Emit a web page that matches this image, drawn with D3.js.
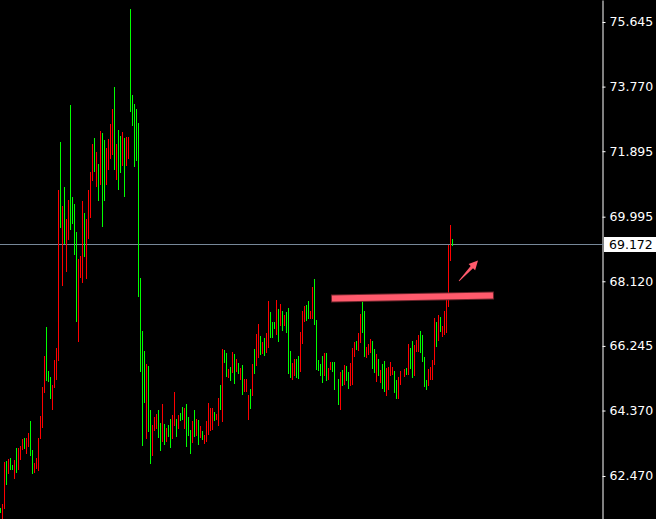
<!DOCTYPE html>
<html><head><meta charset="utf-8">
<script src="https://cdn.jsdelivr.net/npm/d3@7"></script>
<style>html,body{margin:0;padding:0;background:#000;overflow:hidden}</style>
</head><body>
<svg id="c" width="656" height="519"></svg>
<script>
const highs = [
61.54,61.66,62.87,62.90,62.96,62.99,62.79,62.93,63.28,63.28,
63.34,63.54,63.57,63.57,63.72,64.06,63.22,62.84,62.99,63.57,
64.21,65.05,65.95,66.79,65.51,65.34,65.11,65.83,66.18,70.77,
72.16,70.30,70.86,69.93,70.48,73.24,70.57,70.36,69.55,68.77,
68.85,70.45,70.10,69.93,70.77,71.29,72.10,72.28,71.87,71.52,
72.48,72.42,72.22,71.99,72.25,72.68,73.12,73.76,72.10,72.51,
72.34,72.45,72.28,72.31,72.31,76.02,73.53,73.26,73.12,72.71,
68.21,66.68,66.09,65.72,65.66,64.38,63.95,64.18,64.27,64.38,
64.01,64.56,63.98,63.86,63.95,64.12,64.24,64.91,64.12,64.24,
64.30,64.47,64.44,64.56,64.18,63.80,64.06,64.38,64.12,64.09,
63.92,63.77,63.66,64.06,64.59,64.44,64.44,64.32,64.27,64.73,
65.11,66.15,66.12,66.04,65.57,65.63,66.07,66.01,65.86,65.75,
65.60,65.69,65.28,65.28,64.82,64.99,65.72,66.15,66.59,66.88,
66.53,66.36,66.47,66.62,67.55,67.23,66.94,66.94,67.58,67.31,
67.46,67.26,67.14,67.23,67.34,66.09,65.75,65.86,65.86,65.95,
66.65,67.26,67.40,67.43,67.55,67.26,67.95,68.19,67.00,65.83,
65.72,65.95,66.04,66.04,65.60,65.77,65.77,65.77,65.28,65.48,
65.54,65.69,65.66,65.48,65.75,66.18,66.36,66.39,66.62,67.17,
67.55,67.26,66.21,66.30,66.45,66.39,66.15,66.01,65.86,65.54,
65.72,65.80,65.60,65.63,65.77,65.63,65.51,65.25,65.34,65.51,
65.57,65.60,66.30,66.18,66.39,66.27,66.42,66.56,66.68,66.56,
65.92,65.25,65.57,65.63,65.83,67.05,66.94,67.14,67.08,66.82,
67.26,67.58,69.17,69.75,69.35];
const lows = [
61.39,61.16,61.51,62.21,62.52,62.64,62.64,62.38,62.55,62.64,
62.93,63.22,63.25,63.10,63.31,63.05,62.52,62.55,62.67,62.61,
63.54,63.86,64.88,65.22,65.19,64.70,64.38,65.02,65.25,65.80,
69.67,67.98,69.20,68.39,69.32,69.61,69.78,68.88,66.94,66.36,
68.21,68.07,68.82,68.19,69.35,69.96,71.03,71.29,70.86,70.45,
70.91,69.70,70.45,70.91,71.35,71.67,71.78,71.35,71.06,70.77,
71.26,71.46,70.57,71.46,71.67,73.03,72.63,71.43,71.61,67.66,
65.48,63.34,64.59,63.54,63.75,62.81,63.05,63.77,63.83,63.57,
63.19,63.46,63.37,63.46,63.60,63.28,63.54,63.92,63.60,63.83,
64.06,64.09,63.83,63.31,63.63,63.10,63.43,63.60,63.63,63.37,
63.57,63.51,63.40,63.46,63.66,63.77,63.80,64.06,64.09,63.92,
64.38,64.03,65.75,65.34,65.31,65.22,65.46,65.14,65.48,65.43,
65.25,64.82,64.91,64.91,64.09,64.41,64.79,65.43,65.66,65.89,
65.98,66.01,65.95,66.04,66.18,66.47,66.47,66.73,66.56,66.36,
66.82,66.68,66.82,66.62,65.43,65.31,65.25,65.37,65.31,65.28,
65.48,66.30,66.94,66.97,67.03,67.03,67.03,66.85,65.54,65.51,
65.37,65.17,65.37,65.22,65.25,65.54,65.48,64.96,64.53,64.38,
65.08,65.11,65.22,64.99,65.08,65.11,65.92,66.12,66.09,66.33,
66.62,65.92,65.89,65.98,66.04,65.57,65.46,65.19,65.37,65.17,
64.99,64.91,64.79,64.96,65.37,65.40,64.88,64.70,64.70,65.11,
65.34,65.40,65.40,65.57,65.31,65.37,66.07,66.07,66.04,65.77,
65.05,64.96,65.08,65.25,65.25,65.69,66.21,66.39,66.65,66.50,
66.56,66.62,67.37,68.71,69.14];
const bullish = [
1,0,0,1,0,1,1,0,1,0, 0,0,1,0,0,1,1,0,0,0, 0,0,0,1,1,1,0,0,0,0,
1,0,1,0,0,1,1,1,1,0, 0,0,1,0,0,0,0,1,0,1, 0,1,1,0,0,0,0,1,0,1,
1,0,1,0,0,1,1,1,1,1, 1,1,1,0,1,1,0,0,0,1, 1,0,1,0,1,1,0,0,1,0,
1,1,0,1,1,1,0,1,0,1, 0,1,0,0,0,0,0,1,0,0, 1,0,1,1,0,1,0,1,0,1,
0,1,0,0,0,1,0,1,0,0, 1,0,1,0,0,1,1,1,0,1, 0,1,0,1,1,1,0,0,1,1,
0,0,0,1,1,0,0,1,1,1, 1,1,0,1,0,0,1,1,1,0, 1,0,1,1,0,0,0,1,0,0,
1,1,0,0,0,1,1,0,1,0, 1,1,0,0,0,0,1,1,0,0, 0,1,0,1,1,0,0,0,1,1,
1,1,0,0,0,0,1,0,1,0, 0,0,0,0,1];
// chart time slots of the bars (two slots have no readable bar)
const slots = highs.map((_, i) => i + (i >= 168 ? 1 : 0) + (i >= 200 ? 1 : 0));
const tickValues = [75.645, 73.770, 71.895, 69.995, 68.120, 66.245, 64.370, 62.470];
const currentPrice = 69.172;
// trend line and arrow annotations, in (slot, price)
const trendLine = [[165.5, 67.62], [247, 67.71]];
const arrowPts = [[229.5, 68.13], [239, 68.72]];

const W = 656, H = 519, axisX = 602;
const N = highs.length;
const svg = d3.select('#c');
svg.append('rect').attr('width', W).attr('height', H).attr('fill', '#000');

const x = d3.scaleLinear().domain([0, 1]).range([0, 2]);
const y = d3.scaleLinear().domain([61.222, 76.283]).range([H, 0]);

const data = highs.map((h, i) => ({s: slots[i], h, l: lows[i], up: bullish[i]}));

// current price line
const py = Math.floor(y(currentPrice)) - 0.5;
svg.append('line').attr('x1', 0).attr('x2', axisX).attr('y1', py).attr('y2', py)
  .attr('stroke', '#778899').attr('stroke-width', 1).attr('shape-rendering', 'crispEdges');

// bars
svg.append('g').selectAll('rect').data(data).join('rect')
  .attr('x', d => Math.round(x(d.s)))
  .attr('y', d => Math.round(y(d.h)))
  .attr('width', 1)
  .attr('height', d => Math.max(1, Math.round(y(d.l)) - Math.round(y(d.h))))
  .attr('fill', d => d.up ? '#00ff00' : '#ff0000')
  .attr('shape-rendering', 'crispEdges');

// trend line
const tl = trendLine.map(p => [x(p[0]), y(p[1])]);
svg.append('line').attr('x1', tl[0][0]).attr('y1', tl[0][1]).attr('x2', tl[1][0]).attr('y2', tl[1][1])
  .attr('stroke', '#6a232a').attr('stroke-width', 8);
svg.append('line').attr('x1', tl[0][0] + 1).attr('y1', tl[0][1]).attr('x2', tl[1][0] - 1).attr('y2', tl[1][1])
  .attr('stroke', '#ff5a6c').attr('stroke-width', 6);

// arrow
const a0 = [x(arrowPts[0][0]), y(arrowPts[0][1])];
const a1 = [x(arrowPts[1][0]), y(arrowPts[1][1])];
const dx = a1[0] - a0[0], dy = a1[1] - a0[1];
const len = Math.hypot(dx, dy);
const ux = dx / len, uy = dy / len, nx = -uy, ny = ux;
const headL = 9, headW = 4.5, shaftW = 1.6;
const bx = a1[0] - ux * headL, by = a1[1] - uy * headL;
const poly = [
  [a0[0] + nx * 0.4, a0[1] + ny * 0.4],
  [bx + nx * shaftW, by + ny * shaftW],
  [bx + nx * headW, by + ny * headW],
  a1,
  [bx - nx * headW, by - ny * headW],
  [bx - nx * shaftW, by - ny * shaftW],
  [a0[0] - nx * 0.4, a0[1] - ny * 0.4]
];
svg.append('path').attr('d', d3.line()(poly) + 'Z').attr('fill', '#ff5a6c');

// right axis
const axis = d3.axisRight(y).tickValues(tickValues).tickFormat(d3.format('.3f'))
  .tickSize(3).tickSizeOuter(0).tickPadding(4);
const ag = svg.append('g').attr('transform', `translate(${axisX + 0.5},0)`).call(axis);
ag.select('.domain').attr('stroke', '#ffffff');
ag.selectAll('.tick line').attr('stroke', '#ffffff');
ag.selectAll('.tick text').attr('fill', '#ffffff')
  .style('font-family', '"DejaVu Sans", sans-serif').style('font-size', '12.5px');

// current price label
svg.append('line').attr('x1', axisX).attr('x2', axisX + 4).attr('y1', py).attr('y2', py)
  .attr('stroke', '#778899').attr('shape-rendering', 'crispEdges');
svg.append('rect').attr('x', 604).attr('y', Math.round(y(currentPrice)) - 8).attr('width', 52).attr('height', 15)
  .attr('fill', '#ffffff');
svg.append('text').attr('x', 609).attr('y', y(currentPrice)).attr('dy', '0.32em')
  .attr('fill', '#000').style('font-family', '"DejaVu Sans", sans-serif').style('font-size', '12.5px')
  .text(d3.format('.3f')(currentPrice));
</script>
</body></html>
